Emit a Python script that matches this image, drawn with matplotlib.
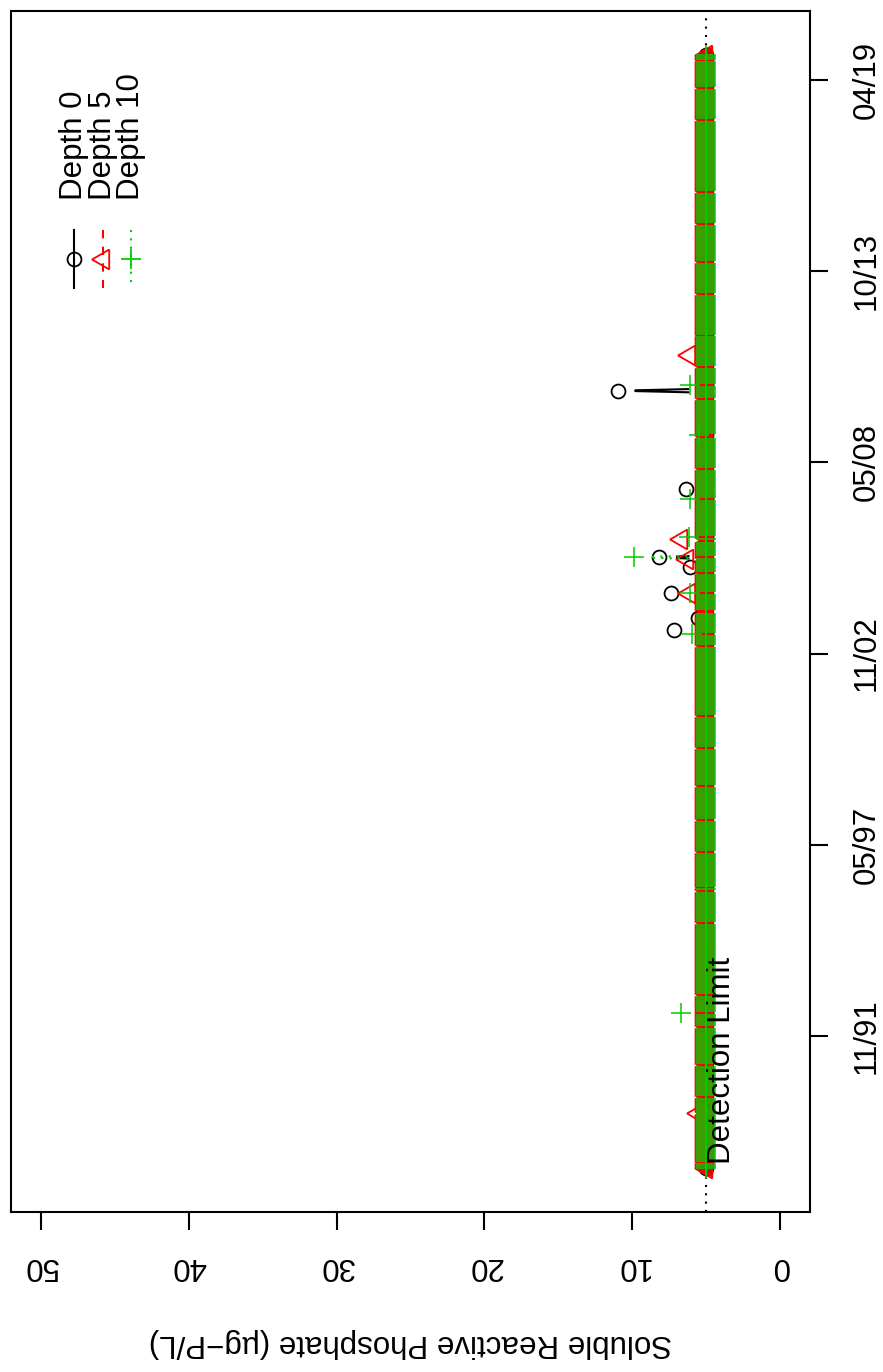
import numpy as np
import pandas as pd
import matplotlib
matplotlib.use("Agg")
import matplotlib.pyplot as plt

plt.rcParams['font.family'] = ['Liberation Sans', 'DejaVu Sans']

# sampling: every three weeks, thinned over winter
sample_start = "1988-02-19"
sample_end = "2019-12-27"
detection_limit = 5.0

# values above the detection limit (everything else sits at the limit)
depth0_dates = ["2003-07-13", "2003-11-14", "2004-08-04", "2005-05-03",
                "2005-08-15", "2007-07-19", "2010-05-17"]
depth0_vals = [7.2, 5.6, 7.4, 6.1, 8.2, 6.4, 11.0]

depth5_dates = ["1989-09-12", "2004-08-04", "2005-07-15", "2006-02-09", "2011-06-09"]
depth5_vals = [5.6, 6.15, 6.3, 6.7, 6.2]

depth10_dates = ["1992-07-24", "2003-06-11", "2004-08-04", "2005-08-15",
                 "2006-03-02", "2007-04-03", "2009-02-12", "2010-07-20"]
depth10_vals = [6.7, 5.95, 6.1, 9.9, 6.2, 6.1, 5.5, 6.1]

date_ticks = [8000, 10000, 12000, 14000, 16000, 18000]   # days since 1970
srp_ticks = [0, 10, 20, 30, 40, 50]

epoch = pd.Timestamp("1970-01-01")

# sampling dates
dates = pd.date_range(sample_start, sample_end, freq="21D")
doy = dates.dayofyear
winter = (doy < 60) | (doy > 355)
keep = ~winter.copy()
seen = set()
for i, d in enumerate(dates):
    if winter[i]:
        key = (d.year, d.month)
        if key not in seen or i == 0:
            keep[i] = True
            seen.add(key)
dates = dates[keep]
days = np.array((dates - epoch).days, dtype=float)


def series(odates, ovals):
    v = np.full(len(days), detection_limit)
    for d, val in zip(odates, ovals):
        t = (pd.Timestamp(d) - epoch).days
        v[np.argmin(np.abs(days - t))] = val
    return v


d0 = series(depth0_dates, depth0_vals)
d5 = series(depth5_dates, depth5_vals)
d10 = series(depth10_dates, depth10_vals)

fig = plt.figure(figsize=(8.83, 13.72), dpi=100)
W, H = 883.0, 1372.0
L, R, T, B = 11, 810, 11, 1212
ax = fig.add_axes([L / W, 1 - B / H, (R - L) / W, (B - T) / H])

span = days.max() - days.min()
ax.set_ylim(days.min() - 0.04 * span, days.max() + 0.04 * span)
ax.set_xlim(52, -2)


def r_type_b(xv, yv, gap_px, **kw):
    # R's type="b": segments shortened around points, skipped if too short
    pts = ax.transData.transform(np.column_stack([xv, yv]))
    xs, ys = [], []
    for p, q in zip(pts[:-1], pts[1:]):
        dv = q - p
        ln = np.hypot(*dv)
        if ln > 2 * gap_px:
            u = dv / ln
            a = ax.transData.inverted().transform([p + u * gap_px, q - u * gap_px])
            xs += [a[0, 0], a[1, 0], np.nan]
            ys += [a[0, 1], a[1, 1], np.nan]
    ax.plot(xs, ys, **kw)


gap = 18
lw = 1.5
mw = 1.3
ax.axvline(detection_limit, color="black", lw=lw, ls=(0, (1, 3)), zorder=1)

r_type_b(d0, days, gap, color="black", lw=lw, ls="-")
ax.plot(d0, days, ls="none", marker="o", ms=10, mfc="none", mec="black", mew=mw, snap=False)
r_type_b(d5, days, gap, color="#FF0000", lw=lw, ls=(0, (4, 4)))
ax.plot(d5, days, ls="none", marker=(3, 0, 90), ms=16.5, mfc="none", mec="#FF0000",
        mew=mw, snap=False)
r_type_b(d10, days, gap, color="#00CD00", lw=lw, ls=(0, (1, 3)))
ax.plot(d10, days, ls="none", marker="+", ms=15, mec="#00CD00", mew=1.1, snap=False)

ax.text(3.42, days.min() + 40, "Detection Limit", rotation=90, rotation_mode="anchor",
        ha="left", va="baseline", fontsize=22.5)

# axes
for s in ax.spines.values():
    s.set_linewidth(lw)
ax.yaxis.tick_right()
ax.set_yticks(date_ticks)
ax.set_yticklabels([(epoch + pd.Timedelta(days=d)).strftime("%m/%y") for d in date_ticks])
ax.set_xticks(srp_ticks)
ax.set_xticklabels([str(t) for t in srp_ticks])
ax.tick_params(axis="both", length=13, width=lw, labelsize=22.5)
ax.tick_params(axis="y", pad=28, labelrotation=90)
ax.tick_params(axis="x", pad=26, labelrotation=180)
for lbl in ax.get_yticklabels():
    lbl.set_ha("center")
    lbl.set_va("center")
for lbl in ax.get_xticklabels():
    lbl.set_ha("center")
    lbl.set_va("center")

fig.text(410 / W, 1 - 1343 / H, "Soluble Reactive Phosphate (\u00b5g\u2212P/L)",
         rotation=180, ha="center", va="center", fontsize=22.5)

# legend (drawn by hand so it can be rotated with the rest)
leg = [("Depth 0", "black", "-", "o", 10),
       ("Depth 5", "#FF0000", (0, (4, 4)), (3, 0, 90), 16.5),
       ("Depth 10", "#00CD00", (0, (1, 3)), "+", 15)]
for i, (name, c, ls, mk, ms) in enumerate(leg):
    xp = 74 + 28.5 * i
    xa = (xp - L) / (R - L)
    ax.plot([xa, xa], [(B - 230) / (B - T), (B - 288) / (B - T)], color=c, ls=ls, lw=lw,
            transform=ax.transAxes)
    ax.plot([xa], [(B - 259) / (B - T)], ls="none", marker=mk, ms=ms, mfc="none", mec=c,
            mew=mw, transform=ax.transAxes)
    ax.text(xa, (B - 200) / (B - T), name, rotation=90, rotation_mode="anchor",
            ha="left", va="center", fontsize=22.5, transform=ax.transAxes)

fig.savefig("out.png", dpi=100)
